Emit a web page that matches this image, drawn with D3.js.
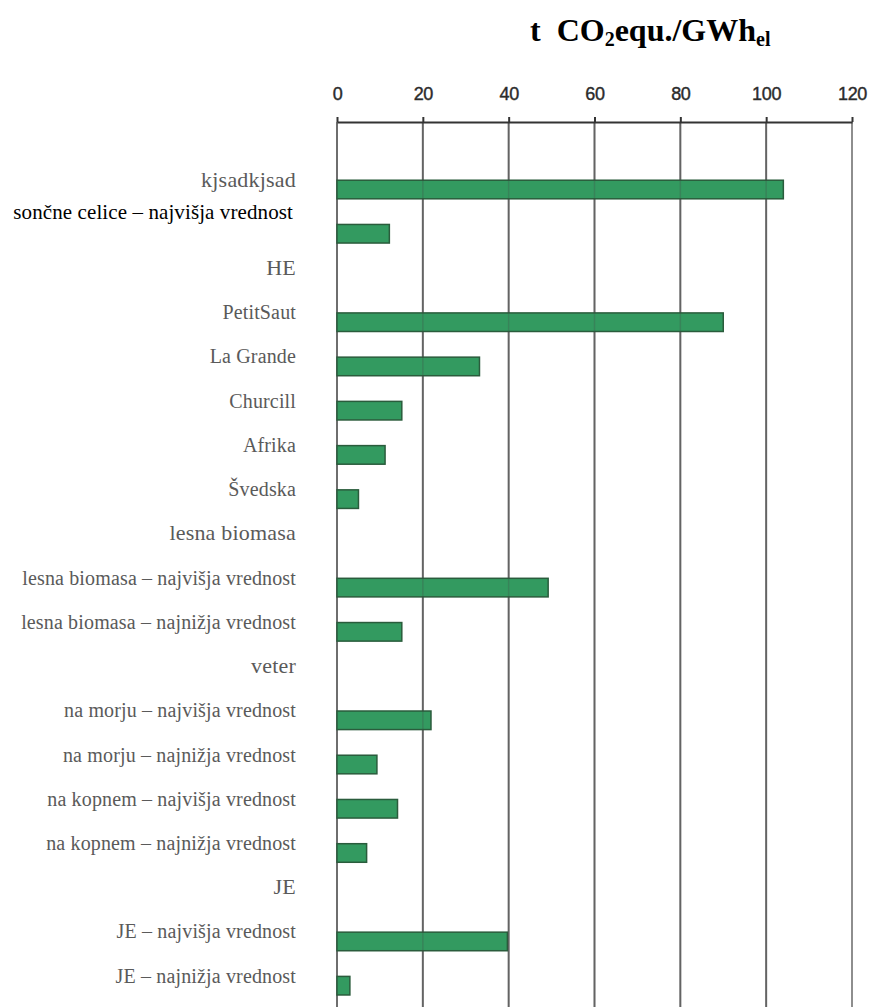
<!DOCTYPE html>
<html>
<head>
<meta charset="utf-8">
<script src="https://cdnjs.cloudflare.com/ajax/libs/d3/7.8.5/d3.min.js"></script>
<style>
  body { margin: 0; background: #fff; }
</style>
</head>
<body>
<div id="chart"></div>
<script>

// categories, top to bottom
var categories = [
  "kjsadkjsad",
  "sončne celice – najvišja vrednost",
  "HE",
  "PetitSaut",
  "La Grande",
  "Churcill",
  "Afrika",
  "Švedska",
  "lesna biomasa",
  "lesna biomasa – najvišja vrednost",
  "lesna biomasa – najnižja vrednost",
  "veter",
  "na morju – najvišja vrednost",
  "na morju – najnižja vrednost",
  "na kopnem – najvišja vrednost",
  "na kopnem – najnižja vrednost",
  "JE",
  "JE – najvišja vrednost",
  "JE – najnižja vrednost"
];

// t CO2equ./GWhel, null = group heading with no bar
var values = [104, 12.2, null, 90, 33.2, 15.1, 11.2, 5, null, 49.2, 15.1, null,
              21.9, 9.3, 14.1, 6.9, null, 39.7, 3];

var groups = ["kjsadkjsad", "HE", "lesna biomasa", "veter", "JE"];

var xTicks = [0, 20, 40, 60, 80, 100, 120];

function init() {

  var w = 871;
  var h = 1007;

  var axisY = 122;
  var serif = "'Liberation Serif', 'Times New Roman', serif";

  var dataset = categories.map(function(c, i) {
    return { name: c, value: values[i] };
  });

  var xScale = d3.scaleLinear()
                 .domain([0, 120])
                 .range([337, 852]);

  var yScale = d3.scaleBand()
                 .domain(categories)
                 .range([167.4, 1007.8])
                 .paddingInner(0.58)
                 .paddingOuter(0.29);

  var svg = d3.select("#chart")
              .append("svg")
              .attr("width", w)
              .attr("height", h);

  // title
  var title = svg.append("text")
      .attr("x", 530)
      .attr("y", 41)
      .attr("font-family", serif)
      .attr("font-weight", "bold")
      .attr("font-size", 32)
      .attr("fill", "#000");
  title.append("tspan").text("t\u00a0\u00a0CO");
  title.append("tspan").attr("font-size", 20).attr("dy", 5).text("2");
  title.append("tspan").attr("dy", -5).text("equ./GWh");
  title.append("tspan").attr("font-size", 20).attr("dy", 5).text("el");

  // vertical grid lines
  svg.append("g")
     .selectAll("line")
     .data(xTicks)
     .enter()
     .append("line")
     .attr("x1", function(d) { return xScale(d); })
     .attr("x2", function(d) { return xScale(d); })
     .attr("y1", axisY)
     .attr("y2", h)
     .attr("stroke", function(d) { return d == 120 ? "#a0a0a0" : "#6e6e6e"; })
     .attr("stroke-width", 2);

  // bars
  svg.append("g")
     .selectAll("rect")
     .data(dataset.filter(function(d) { return d.value != null; }))
     .enter()
     .append("rect")
     .attr("x", xScale(0))
     .attr("y", function(d) { return yScale(d.name); })
     .attr("width", function(d) { return xScale(d.value) - xScale(0); })
     .attr("height", yScale.bandwidth())
     .attr("fill", "#339a60")
     .attr("stroke", "#2a5c3c")
     .attr("stroke-width", 1.5);

  // faint grid over the bars
  svg.append("g")
     .selectAll("line")
     .data(xTicks.slice(1))
     .enter()
     .append("line")
     .attr("x1", function(d) { return xScale(d); })
     .attr("x2", function(d) { return xScale(d); })
     .attr("y1", axisY)
     .attr("y2", h)
     .attr("stroke", "#444")
     .attr("stroke-opacity", 0.25)
     .attr("stroke-width", 1.5);

  // top axis
  var xAxis = d3.axisTop()
                .scale(xScale)
                .tickValues(xTicks)
                .tickSizeInner(5)
                .tickSizeOuter(0)
                .tickPadding(17);

  var axisG = svg.append("g")
     .attr("transform", "translate(0," + axisY + ")")
     .call(xAxis);

  axisG.attr("font-family", "'Liberation Sans', Arial, sans-serif");
  axisG.select(".domain").attr("stroke", "#333").attr("stroke-width", 2);
  axisG.selectAll(".tick line").attr("stroke", "#333").attr("stroke-width", 2);
  axisG.selectAll(".tick text")
       .attr("font-size", 18)
       .attr("letter-spacing", -0.3)
       .attr("stroke", "#2b2b2b")
       .attr("stroke-width", 0.4)
       .attr("fill", "#2b2b2b");

  // row labels
  svg.append("g")
     .selectAll("text")
     .data(dataset)
     .enter()
     .append("text")
     .attr("class", "rowLabel")
     .attr("font-family", serif)
     .attr("fill", "#5a5a5a")
     .attr("text-anchor", "end")
     .attr("x", 296)
     .attr("y", function(d) { return yScale(d.name) + yScale.bandwidth() / 2 - 3; })
     .attr("font-size", function(d) { return groups.indexOf(d.name) >= 0 ? 22 : 20; })
     .attr("letter-spacing", function(d) { return groups.indexOf(d.name) >= 0 ? 0.2 : 0.15; })
     .text(function(d) { return d.name; });

  // the solar label sits higher and in black
  svg.selectAll(".rowLabel")
     .filter(function(d) { return d.name == categories[1]; })
     .attr("x", 293)
     .attr("y", function(d) { return yScale(d.name) + yScale.bandwidth() / 2 - 15; })
     .attr("font-size", 21)
     .attr("letter-spacing", 0.1)
     .attr("fill", "#000");
}

window.onload = init;
</script>
</body>
</html>
